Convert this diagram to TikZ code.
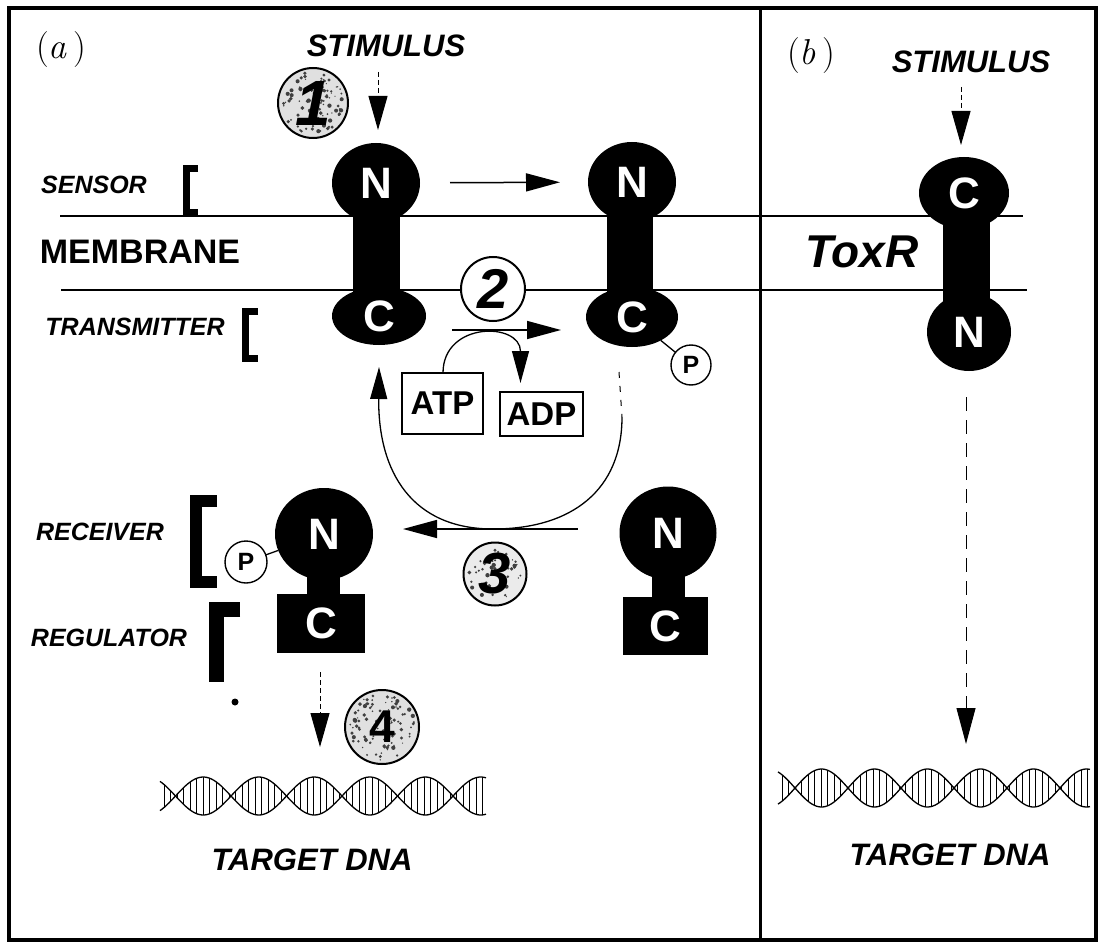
\documentclass[tikz,border=0pt]{standalone}
\usepackage{fontspec}
\newfontfamily\hv{Liberation Sans}
\usetikzlibrary{arrows.meta,calc,shapes.geometric}
\newcommand\fsz[1]{\fontsize{#1}{#1}\selectfont}

% thick square bracket: bar x, top y, bottom y, serif end x, thickness
\newcommand\domainbracket[5]{%
  \draw[line width=#5pt, line cap=butt, line join=miter] (#4,#2) -- (#1,#2) -- (#1,#3) -- (#4,#3);}

% random specks inside a numbered disc
\newcommand\speckle[4]{%
  \foreach \k in {1,...,#4}{%
    \pgfmathsetmacro\sa{360*rnd}%
    \pgfmathsetmacro\sr{(#3-4)*sqrt(rnd)}%
    \pgfmathsetmacro\sd{0.6+1.6*rnd}%
    \fill[black!75] ($(#1)+(\sa:\sr)$) circle (\sd);}}

% double helix: x start, x end, centre y, crossing x, half period, hatch count
\newcommand\helix[6]{%
  \draw[line width=1.3pt] plot[domain=#1:#2, samples=140, smooth] (\x, {#3+19*sin((\x-#4)*(180/#5))});
  \draw[line width=1.3pt] plot[domain=#1:#2, samples=140, smooth] (\x, {#3-19*sin((\x-#4)*(180/#5))});
  \foreach \i in {0,...,#6}{%
    \pgfmathsetmacro\hx{#1+4+\i*6.5}%
    \pgfmathsetmacro\hy{19*sin((\hx-#4)*(180/#5))}%
    \draw[line width=0.5pt] (\hx,{#3+\hy}) -- (\hx,{#3-\hy});}}

\begin{document}
\begin{tikzpicture}[x=1pt,y=-1pt,
  every node/.style={inner sep=0pt, outer sep=0pt},
  lab/.style={font=\hv\bfseries\itshape\fsz{25}},
  blob/.style={ellipse, fill=black, text=white, font=\hv\bfseries\fsz{44}},
  dombox/.style={rectangle, fill=black, text=white, font=\hv\bfseries\fsz{44}},
  phos/.style={circle, draw, fill=white, line width=1.4pt, minimum size=40pt, font=\hv\bfseries\fsz{25}},
  numc/.style={circle, draw, line width=2pt, minimum size=#1},
  nucl/.style={rectangle, draw, line width=1.4pt, font=\hv\bfseries\fsz{33}},
  arr/.style={line width=1.5pt, -{Triangle[length=34pt,width=18pt]}},
  sarr/.style={line width=1pt, dash pattern=on 5pt off 3pt, -{Triangle[length=34pt,width=19pt]}},
  larr/.style={line width=1pt, dash pattern=on 14pt off 9pt, -{Triangle[length=36pt,width=19pt]}},
  curarr/.style={line width=1.3pt, -{Triangle[length=32pt,width=17pt]}},
  memb/.style={line width=1.8pt},
  panel/.style={font=\normalfont\fsz{36}},
  dnalab/.style={font=\hv\bfseries\itshape\fsz{31}},
  stimlab/.style={font=\hv\bfseries\itshape\fsz{31}},
]
\useasboundingbox (0,0) rectangle (1100,944);
\pgfmathsetseed{17}

% frame and panel divider
\draw[line width=3.5pt] (9,8) rectangle (1096,940);
\draw[line width=3pt] (760,8) -- (760,940);

% membrane
\draw[memb] (60,216) -- (1023,216);
\draw[memb] (61,290) -- (1027,290);

% panel labels
\node[panel] (pa) at (61,50) {(\textit{a}\,)};
\node[panel] (pb) at (811,56) {(\textit{b}\,)};

% side labels
\node[lab] (sensor) at (94,185) {SENSOR};
\node[font=\hv\bfseries\fsz{34}] (membrane) at (140,252) {MEMBRANE};
\node[lab] (transmitter) at (135,327) {TRANSMITTER};
\node[lab] (receiver) at (100,532) {RECEIVER};
\node[lab] (regulator) at (109,638) {REGULATOR};
\domainbracket{186}{169}{213}{198}{7}
\domainbracket{245}{311}{358}{258}{7}
\domainbracket{196}{501}{582}{217}{12}
\draw[line width=15pt, line cap=butt, line join=miter] (240,609) -- (216,609) -- (216,682);
\fill (235,702) circle (3.5);

% stimulus labels
\node[stimlab] (stimA) at (386,46) {STIMULUS};
\node[stimlab] (stimB) at (971,62) {STIMULUS};

% sensor kinase, before and after phosphorylation
\fill (353,183) rectangle (400,316);
\node[blob, minimum width=88pt, minimum height=80pt] (N1) at (376,183) {N};
\node[blob, minimum width=94pt, minimum height=58pt] (C1) at (379,316) {C};
\fill (607,182) rectangle (653,317);
\node[blob, minimum width=88pt, minimum height=80pt] (N2) at (632,182) {N};
\node[blob, minimum width=92pt, minimum height=60pt] (C2) at (632,317) {C};
\node[phos] (P2) at (691,365) {P};
\draw[line width=1.3pt] (C2) -- (P2);

% response regulator, phosphorylated and free
\fill (307,534) rectangle (340,610);
\node[blob, minimum width=98pt, minimum height=92pt] (N3) at (324,534) {N};
\node[dombox, minimum width=88pt, minimum height=59pt] (C3) at (321,623.5) {C};
\node[phos, minimum size=42pt] (P3) at (246,562) {P};
\draw[line width=1.3pt] (P3) -- (N3);
\fill (652,533) rectangle (685,610);
\node[blob, minimum width=97pt, minimum height=93pt] (N4) at (668,533) {N};
\node[dombox, minimum width=85pt, minimum height=58pt] (C4) at (665.5,626) {C};

% ToxR
\fill (943,192) rectangle (990,332);
\node[blob, minimum width=90pt, minimum height=72pt] (TC) at (964,193) {C};
\node[blob, minimum width=84pt, minimum height=78pt] (TN) at (969,332) {N};
\node[font=\hv\bfseries\itshape\fsz{46}] (toxr) at (862,252) {ToxR};

% nucleotides
\node[nucl, minimum width=81pt, minimum height=61pt] (ATP) at (442.5,403.5) {ATP};
\node[nucl, minimum width=83pt, minimum height=44pt] (ADP) at (541.5,414) {ADP};

% numbered steps
\fill[black!12] (313,103) circle (35);
\coordinate (c1) at (313,103);
\speckle{c1}{0}{35}{95}
\node[numc=70pt] (s1) at (c1) {};
\node[font=\hv\bfseries\itshape\fsz{64}] (s1t) at (s1) {1};

\node[numc=64pt, fill=white] (s2) at (493,289) {};
\node[font=\hv\bfseries\itshape\fsz{56}] (s2t) at (s2) {2};

\fill[black!8] (495,574) circle (31);
\coordinate (c3) at (495,574);
\speckle{c3}{0}{31}{50}
\node[numc=63pt] (s3) at (c3) {};
\node[font=\hv\bfseries\itshape\fsz{58}] (s3t) at (s3) {3};

\fill[black!12] (382,727) circle (37);
\coordinate (c4) at (382,727);
\speckle{c4}{0}{37}{100}
\node[numc=74pt] (s4) at (c4) {};
\node[font=\hv\bfseries\fsz{46}] (s4t) at (s4) {4};

% target DNA
\helix{160}{486}{796}{231}{55.5}{49}
\helix{778}{1090}{788}{848}{53}{47}
\coordinate (dnaA) at (320,796);
\coordinate (dnaB) at (966,788);
\node[dnalab] (tdnaA) at (312,860) {TARGET DNA};
\node[dnalab] (tdnaB) at (950,855) {TARGET DNA};

% signalling arrows
\coordinate (stimAtail) at (378,72);
\coordinate (stimBtail) at (961,87);
\draw[sarr] (stimAtail) -- ($(N1.north)+(2,-13)$);
\draw[sarr] (stimBtail) -- ($(TC.north)+(-3,-12)$);
\draw[arr, shorten <=30pt, shorten >=28pt] (N1) -- (N2);
\draw[arr] ($(C1.east)+(26,14)$) -- ($(C2.west)+(-25,13)$);
\draw[curarr] ($(ATP.north)+(0.5,0)$) .. controls +(0,-52) and ($(ADP.north)+(-21,-70)$) .. ($(ADP.north)+(-21,-9)$);
\draw[line width=1pt, dash pattern=on 6pt off 8pt] ($(C2.south)+(-13,25)$) -- ($(C2.south)+(-10,70)$);
\draw[curarr] ($(C2.south)+(-10,70)$) .. controls (622,490) and (572,529) .. (493,529)
      .. controls (412,529) and (378,472) .. ($(C1.south)+(0,22)$);
\draw[arr] ($(N4.west)+(-42,-4)$) -- ($(N3.east)+(30,-5)$);
\draw[sarr] ($(C3.south)+(-1,19)$) -- ($(dnaA)+(0,-49)$);
\draw[larr] ($(TN.south)+(-3,26)$) -- ($(dnaB)+(0,-44)$);
\end{tikzpicture}
\end{document}
